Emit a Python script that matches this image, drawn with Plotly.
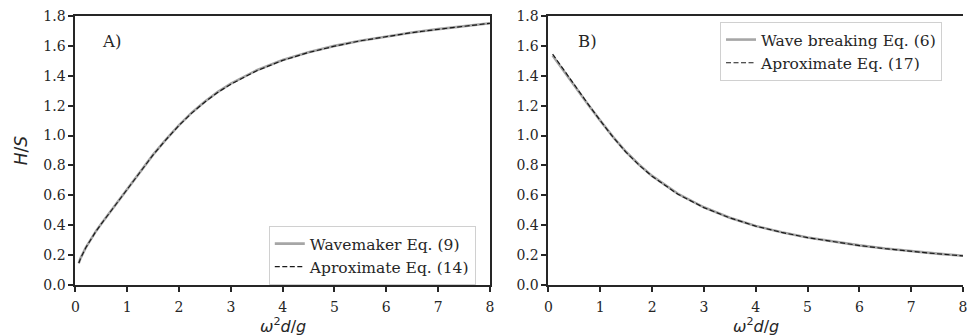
import plotly.graph_objects as go

# ---- data ----
x_a = [0.065, 0.1, 0.2, 0.3, 0.4, 0.5, 0.75, 1.0, 1.25, 1.5, 1.75, 2.0, 2.25, 2.5, 2.75, 3.0, 3.5, 4.0, 4.5, 5.0, 5.5, 6.0, 6.5, 7.0, 7.5, 8.0]
wavemaker = [0.146, 0.18, 0.25, 0.31, 0.362, 0.41, 0.527, 0.645, 0.762, 0.872, 0.975, 1.07, 1.155, 1.228, 1.292, 1.347, 1.437, 1.505, 1.558, 1.600, 1.635, 1.665, 1.690, 1.712, 1.732, 1.752]
approx_14 = [0.146, 0.179, 0.249, 0.309, 0.361, 0.409, 0.526, 0.644, 0.761, 0.871, 0.973, 1.068, 1.152, 1.225, 1.289, 1.344, 1.434, 1.503, 1.556, 1.598, 1.634, 1.664, 1.689, 1.711, 1.731, 1.751]

x_b = [0.08, 0.3, 0.5, 0.75, 1.0, 1.25, 1.5, 1.75, 2.0, 2.5, 3.0, 3.5, 4.0, 4.5, 5.0, 5.5, 6.0, 6.5, 7.0, 7.5, 8.0]
breaking = [1.535, 1.43, 1.33, 1.215, 1.10, 0.99, 0.89, 0.805, 0.73, 0.61, 0.52, 0.45, 0.395, 0.353, 0.318, 0.29, 0.265, 0.244, 0.226, 0.21, 0.196]
approx_17 = [1.545, 1.435, 1.335, 1.218, 1.10, 0.988, 0.887, 0.802, 0.727, 0.607, 0.518, 0.449, 0.394, 0.352, 0.317, 0.289, 0.264, 0.243, 0.225, 0.209, 0.195]

x_ticks = [0, 1, 2, 3, 4, 5, 6, 7, 8]
y_ticks = [0.0, 0.2, 0.4, 0.6, 0.8, 1.0, 1.2, 1.4, 1.6, 1.8]

W, H = 967, 336
L_A, R_A, L_B, R_B = 72, 490, 549, 967
TOP, BOT = 16, 285

GRAY = "#a6a6a6"
DARK = "#262626"
SERIF = "DejaVu Serif"
SANS = "DejaVu Sans"

fig = go.Figure()
fig.add_trace(go.Scatter(x=x_a, y=wavemaker, mode="lines", name="Wavemaker Eq. (9)",
                         line=dict(color=GRAY, width=2.6), xaxis="x", yaxis="y", legend="legend"))
fig.add_trace(go.Scatter(x=x_a, y=approx_14, mode="lines", name="Aproximate Eq. (14)",
                         line=dict(color="#1a1a1a", width=1.2, dash="5px,2.5px"), xaxis="x", yaxis="y", legend="legend"))
fig.add_trace(go.Scatter(x=x_b, y=breaking, mode="lines", name="Wave breaking Eq. (6)",
                         line=dict(color=GRAY, width=2.6), xaxis="x2", yaxis="y2", legend="legend2"))
fig.add_trace(go.Scatter(x=x_b, y=approx_17, mode="lines", name="Aproximate Eq. (17)",
                         line=dict(color="#1a1a1a", width=1.2, dash="5px,2.5px"), xaxis="x2", yaxis="y2", legend="legend2"))

tickfont = dict(family=SERIF, size=14, color=DARK)
common_x = dict(range=[0, 8], tickvals=x_ticks, ticks="outside", ticklen=5, tickwidth=1.6, tickcolor=DARK,
                showline=True, linecolor=DARK, linewidth=2, mirror=True, showgrid=False, zeroline=False,
                tickfont=tickfont, ticklabeloverflow="allow", ticklabelstandoff=3)
common_y = dict(range=[0, 1.8], tickvals=y_ticks, tickformat=".1f", ticks="outside", ticklen=5, tickwidth=1.6,
                tickcolor=DARK, showline=True, linecolor=DARK, linewidth=2, showgrid=False, zeroline=False,
                tickfont=tickfont)

legend_common = dict(font=dict(family=SERIF, size=15.5, color=DARK), bgcolor="rgba(255,255,255,0.8)",
                     bordercolor="#d0d0d0", borderwidth=1, xanchor="left", yanchor="top")

fig.update_layout(
    width=W, height=H,
    margin=dict(l=0, r=0, t=TOP, b=H - BOT),
    paper_bgcolor="white", plot_bgcolor="white",
    xaxis=dict(domain=[L_A / W, R_A / W], anchor="y", **common_x),
    yaxis=dict(domain=[0, 1], anchor="x", mirror=True, **common_y),
    xaxis2=dict(domain=[L_B / W, R_B / W], anchor="y2", **common_x),
    yaxis2=dict(domain=[0, 1], anchor="x2", mirror=False, **common_y),
    legend=dict(x=267 / W, y=(BOT - 226) / (BOT - TOP), **legend_common),
    legend2=dict(x=722 / W, y=(BOT - 22) / (BOT - TOP), **legend_common),
    showlegend=True,
)

annots = [
    dict(text="A)", x=0.48, y=1.63, xref="x", yref="y", xanchor="left", yanchor="middle", showarrow=False,
         font=dict(family=SERIF, size=16.5, color=DARK)),
    dict(text="B)", x=0.53, y=1.63, xref="x2", yref="y2", xanchor="left", yanchor="middle", showarrow=False,
         font=dict(family=SERIF, size=16.5, color=DARK)),
    dict(text="<i>H</i>/<i>S</i>", x=17 / W, y=0.5, xref="paper", yref="paper", textangle=-90,
         xanchor="center", yanchor="middle", showarrow=False, font=dict(family=SANS, size=17, color=DARK)),
    dict(text="<i>ω</i><sup>2</sup><i>d</i>/<i>g</i>", x=(L_A + R_A) / 2 / W, y=-(325 - BOT) / (BOT - TOP),
         xref="paper", yref="paper", xanchor="center", yanchor="middle", showarrow=False,
         font=dict(family=SANS, size=16, color=DARK)),
    dict(text="<i>ω</i><sup>2</sup><i>d</i>/<i>g</i>", x=(L_B + R_B) / 2 / W, y=-(325 - BOT) / (BOT - TOP),
         xref="paper", yref="paper", xanchor="center", yanchor="middle", showarrow=False,
         font=dict(family=SANS, size=16, color=DARK)),
]
fig.update_layout(annotations=annots)

fig.write_html("out.html")
